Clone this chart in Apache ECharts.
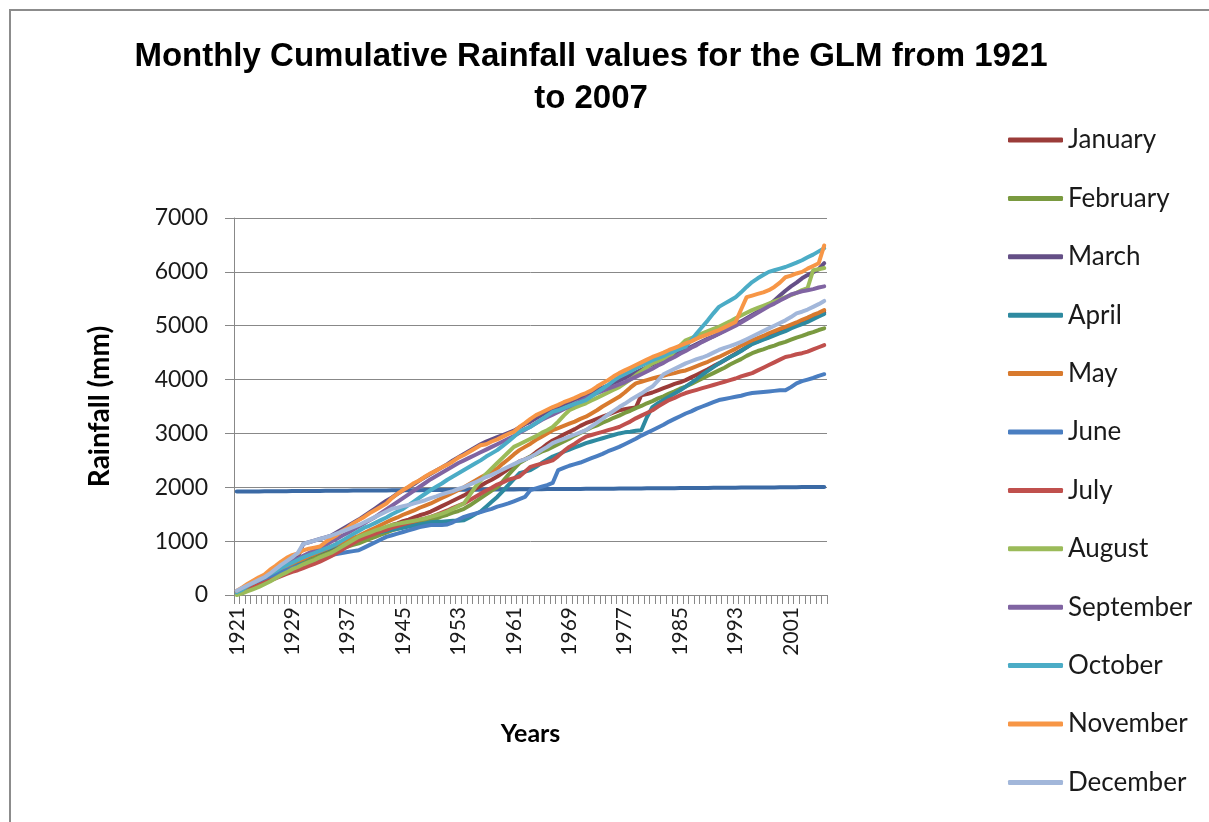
<!DOCTYPE html>
<html>
<head>
<meta charset="utf-8">
<script src="https://cdn.jsdelivr.net/npm/echarts@6/dist/echarts.min.js"></script>
<style>
html,body{margin:0;padding:0;background:#fff;}
#chart{width:1209px;height:822px;}
</style>
</head>
<body>
<div id="chart"></div>
<script>
// Year column (also used as the category labels)
const years = [
1921,1922,1922,1923,1924,1925,1926,1926,1927,1928,
1929,1930,1930,1931,1932,1933,1934,1934,1935,1936,
1937,1938,1938,1939,1940,1941,1942,1942,1943,1944,
1945,1946,1946,1947,1948,1949,1950,1950,1951,1952,
1953,1954,1954,1955,1956,1957,1958,1958,1959,1960,
1961,1962,1962,1963,1964,1965,1966,1966,1967,1968,
1969,1970,1970,1971,1972,1973,1974,1974,1975,1976,
1977,1978,1978,1979,1980,1981,1982,1982,1983,1984,
1985,1986,1986,1987,1988,1989,1990,1990,1991,1992,
1993,1994,1994,1995,1996,1997,1998,1998,1999,2000,
2001,2002,2003,2004,2005,2006,2007];

const january = [
50,90,140,190,240,280,330,380,430,470,
520,570,620,670,710,760,800,850,890,930,
970,1010,1050,1090,1130,1170,1210,1250,1300,1330,
1370,1400,1440,1480,1510,1550,1600,1650,1700,1750,
1800,1850,1910,1970,2030,2090,2140,2200,2270,2340,
2410,2480,2520,2570,2650,2720,2800,2870,2920,2980,
3030,3080,3140,3190,3230,3270,3310,3350,3390,3430,
3450,3470,3480,3710,3730,3760,3800,3840,3880,3920,
3950,3990,4040,4090,4140,4190,4250,4300,4360,4420,
4480,4540,4600,4670,4710,4750,4790,4840,4880,4920,
4970,5010,5060,5100,5150,5200,5250];

const february = [
40,80,120,160,210,250,300,360,410,470,
520,560,600,640,680,720,760,800,830,870,
900,930,960,1000,1040,1080,1120,1160,1200,1230,
1260,1280,1310,1340,1360,1390,1420,1460,1490,1530,
1560,1600,1660,1730,1800,1870,1940,2000,2110,2230,
2340,2450,2510,2570,2610,2660,2700,2750,2800,2850,
2900,2960,3010,3060,3110,3150,3200,3240,3290,3330,
3380,3420,3470,3510,3560,3600,3650,3690,3740,3780,
3830,3870,3920,3970,4020,4070,4120,4170,4220,4280,
4330,4380,4440,4490,4530,4560,4600,4630,4670,4700,
4740,4780,4810,4850,4880,4920,4950];

const march = [
60,120,180,240,300,350,410,470,530,590,
650,700,950,980,1010,1040,1070,1100,1160,1220,
1280,1340,1400,1470,1540,1610,1680,1750,1810,1880,
1940,2000,2060,2130,2190,2250,2310,2370,2430,2500,
2560,2620,2680,2740,2800,2850,2890,2930,2970,3010,
3050,3110,3170,3220,3280,3340,3400,3450,3490,3540,
3580,3630,3670,3720,3760,3810,3850,3890,3940,3980,
4030,4080,4130,4180,4230,4280,4330,4370,4420,4470,
4510,4560,4610,4660,4710,4760,4800,4850,4910,4970,
5030,5080,5140,5200,5260,5320,5380,5470,5560,5650,
5730,5800,5880,5940,5990,6050,6160];

const april = [
30,80,140,190,250,300,350,410,460,510,
560,610,660,710,760,800,840,880,920,960,
1000,1030,1060,1090,1120,1150,1170,1190,1210,1230,
1250,1270,1290,1310,1330,1350,1360,1360,1370,1380,
1380,1390,1440,1500,1550,1640,1730,1820,1930,2040,
2150,2260,2290,2320,2380,2450,2510,2570,2610,2660,
2700,2740,2780,2820,2850,2880,2910,2940,2970,3000,
3020,3030,3050,3060,3300,3490,3560,3620,3680,3740,
3800,3870,3940,4010,4090,4160,4230,4300,4360,4420,
4470,4530,4600,4660,4700,4740,4780,4820,4860,4900,
4950,4990,5030,5070,5120,5170,5220];

const may = [
40,90,150,200,250,300,360,410,470,520,
580,630,670,720,760,810,850,900,940,980,
1020,1060,1100,1150,1200,1250,1300,1350,1400,1440,
1490,1530,1570,1620,1660,1700,1750,1800,1850,1900,
1950,2000,2060,2120,2180,2240,2300,2350,2440,2520,
2610,2690,2750,2810,2880,2940,3000,3060,3100,3140,
3180,3220,3270,3310,3370,3430,3500,3560,3620,3680,
3760,3850,3930,3960,3990,4020,4050,4070,4100,4120,
4150,4170,4210,4250,4290,4330,4380,4420,4470,4520,
4570,4630,4680,4730,4770,4810,4860,4900,4940,4980,
5020,5060,5110,5150,5200,5240,5290];

const june = [
20,70,120,170,230,280,330,380,420,460,
500,540,570,600,630,660,700,740,760,780,
800,815,830,880,930,980,1030,1080,1110,1140,
1170,1200,1230,1260,1280,1300,1300,1300,1310,1350,
1400,1450,1480,1510,1540,1570,1600,1640,1670,1700,
1740,1780,1820,1950,1980,2010,2040,2080,2320,2360,
2400,2430,2460,2500,2540,2580,2620,2670,2710,2750,
2800,2850,2900,2960,3010,3060,3110,3160,3220,3270,
3320,3370,3410,3460,3500,3540,3580,3620,3640,3660,
3680,3700,3730,3750,3760,3770,3780,3790,3800,3800,
3860,3930,3970,4000,4030,4070,4100];

const july = [
30,70,110,150,190,230,270,310,350,390,
430,460,500,540,580,620,670,720,780,840,
900,960,1020,1060,1100,1140,1180,1210,1250,1280,
1310,1340,1370,1400,1420,1450,1490,1530,1570,1620,
1660,1700,1760,1820,1880,1940,1990,2050,2090,2140,
2170,2200,2290,2380,2410,2440,2470,2500,2580,2670,
2750,2810,2880,2940,2970,3000,3030,3060,3090,3120,
3170,3220,3280,3330,3380,3430,3500,3560,3620,3660,
3710,3750,3780,3810,3840,3870,3900,3930,3960,3990,
4020,4060,4090,4120,4170,4220,4270,4320,4370,4420,
4440,4470,4490,4520,4560,4600,4640];

const august = [
0,30,70,110,150,200,250,310,370,420,
480,520,570,610,650,700,740,780,840,900,
960,1020,1080,1120,1160,1200,1230,1270,1300,1320,
1340,1360,1380,1400,1420,1450,1480,1510,1550,1600,
1650,1700,1850,2000,2120,2250,2350,2450,2550,2650,
2750,2800,2850,2900,2950,3010,3060,3120,3220,3330,
3430,3480,3520,3560,3610,3660,3710,3760,3810,3860,
3930,4000,4080,4150,4230,4300,4340,4380,4420,4520,
4630,4730,4770,4810,4860,4900,4940,4980,5030,5080,
5140,5190,5240,5290,5330,5370,5410,5450,5490,5530,
5570,5610,5660,5700,6030,6050,6070];

const september = [
70,120,180,230,290,340,400,460,510,570,
620,670,730,780,830,880,930,990,1040,1100,
1150,1210,1270,1330,1390,1450,1520,1590,1660,1730,
1800,1870,1940,2010,2080,2150,2210,2270,2330,2390,
2450,2500,2550,2600,2650,2700,2750,2800,2850,2900,
2950,3010,3070,3130,3190,3250,3300,3350,3400,3450,
3500,3550,3600,3650,3700,3750,3790,3830,3870,3910,
3950,4000,4050,4100,4150,4200,4260,4310,4370,4420,
4480,4530,4590,4640,4700,4750,4800,4850,4900,4950,
5000,5060,5120,5180,5240,5300,5360,5410,5470,5520,
5580,5610,5640,5660,5680,5710,5730];

const october = [
50,100,170,230,280,330,390,440,500,550,
600,650,700,740,780,820,860,900,950,1010,
1070,1130,1190,1250,1290,1340,1390,1440,1500,1550,
1600,1670,1740,1810,1880,1950,2010,2070,2140,2200,
2260,2320,2380,2440,2500,2570,2630,2690,2770,2850,
2940,3030,3080,3120,3190,3260,3330,3400,3430,3470,
3510,3550,3580,3620,3690,3760,3830,3900,3980,4050,
4100,4150,4210,4260,4310,4360,4400,4440,4490,4530,
4570,4610,4730,4860,4980,5100,5230,5350,5410,5470,
5530,5620,5720,5810,5880,5940,6000,6030,6060,6090,
6130,6170,6215,6270,6320,6380,6440];

const november = [
80,140,210,270,330,380,470,540,620,690,
740,770,830,860,880,900,980,1050,1110,1190,
1250,1330,1390,1450,1520,1580,1640,1700,1800,1880,
1950,2010,2080,2130,2200,2260,2310,2370,2420,2480,
2550,2600,2660,2720,2780,2800,2850,2890,2940,2990,
3030,3120,3190,3270,3340,3390,3440,3490,3530,3580,
3620,3660,3710,3750,3800,3870,3930,3990,4060,4120,
4170,4220,4270,4320,4370,4420,4460,4500,4550,4590,
4630,4670,4710,4760,4800,4840,4880,4920,4970,5020,
5070,5300,5530,5560,5590,5620,5660,5720,5800,5900,
5930,5970,6000,6060,6110,6160,6490];

const december = [
80,130,180,230,280,330,400,480,560,630,
700,780,950,980,1010,1040,1070,1100,1140,1180,
1220,1260,1300,1350,1400,1450,1500,1550,1600,1620,
1650,1670,1700,1730,1760,1800,1830,1870,1900,1930,
1970,2000,2050,2090,2140,2190,2230,2280,2330,2380,
2430,2480,2520,2560,2620,2690,2750,2820,2860,2900,
2940,2980,3020,3060,3130,3200,3270,3350,3420,3490,
3550,3620,3680,3740,3810,3870,3980,4100,4150,4200,
4250,4300,4340,4380,4410,4450,4500,4550,4590,4620,
4660,4700,4750,4800,4850,4900,4950,5000,5050,5100,
5160,5230,5260,5300,5350,5400,5460];

const monthNames = ['January','February','March','April','May','June','July','August','September','October','November','December'];
const monthData = [january,february,march,april,may,june,july,august,september,october,november,december];
const monthColors = ['#9B3C39','#7A9A40','#644F86','#2E8AA0','#D87A2E','#4A7EC1','#C0504D','#9BBB59','#8064A2','#4BACC6','#F79646','#A2B7DA'];
const yTicks = {min:0, max:7000, interval:1000};

const gridColor = '#888888';
const LW = 4;
const series = [{
  name:'Year', type:'line', data: years, symbol:'none', color:'#3B6AA5',
  lineStyle:{width:LW, color:'#3B6AA5', cap:'round', join:'round'}, z:2
}];
monthNames.forEach((n,i)=>{
  series.push({
    name:n, type:'line', data: monthData[i], symbol:'none', color: monthColors[i],
    lineStyle:{width:LW, color: monthColors[i], cap:'round', join:'round'}, z:3
  });
});

const chart = echarts.init(document.getElementById('chart'), null, {renderer:'canvas'});
chart.setOption({
  animation:false,
  backgroundColor:'#ffffff',
  title:{
    text:'Monthly Cumulative Rainfall values for the GLM from 1921\nto 2007',
    left:586, top:31, textAlign:'center',
    textStyle:{fontFamily:'Liberation Sans', fontWeight:'bold', fontSize:33, lineHeight:42, color:'#000'}
  },
  legend:{
    data: monthNames,
    orient:'vertical', left:1003, top:120,
    icon:'roundRect',
    itemWidth:55, itemHeight:5, itemGap:28.4,
    textStyle:{fontFamily:'Lato', fontSize:26, lineHeight:30, color:'#1a1a1a'}
  },
  grid:{left:234, right:382, top:218, bottom:227, containLabel:false},
  xAxis:{
    type:'category', data: years.map(String), boundaryGap:true,
    name:'Years', nameLocation:'middle', nameGap:126,
    nameTextStyle:{fontFamily:'Lato', fontWeight:'bold', fontSize:25, color:'#000'},
    axisLine:{show:true, lineStyle:{color:gridColor, width:1}},
    axisTick:{show:true, interval:0, length:9, inside:false, alignWithLabel:false, lineStyle:{color:gridColor}},
    axisLabel:{interval:9, rotate:90, margin:12, fontFamily:'Lato', fontSize:21, color:'#1a1a1a'},
    splitLine:{show:false}
  },
  yAxis:{
    type:'value', min:yTicks.min, max:yTicks.max, interval:yTicks.interval,
    name:'Rainfall (mm)', nameLocation:'middle', nameGap:120, nameRotate:90,
    nameTextStyle:{fontFamily:'Lato', fontWeight:'bold', fontSize:28, color:'#000'},
    axisLine:{show:true, lineStyle:{color:gridColor, width:1}},
    axisTick:{show:true, length:9, inside:false, lineStyle:{color:gridColor}},
    axisLabel:{margin:26, fontFamily:'Lato', fontSize:23, color:'#1a1a1a', formatter:function(v){return String(v);}},
    splitLine:{show:true, lineStyle:{color:gridColor, width:1}}
  },
  graphic:[{
    type:'polyline', silent:true,
    shape:{points:[[10,830],[10,10],[1215,10]]},
    style:{stroke:'#8c8c8c', lineWidth:2, fill:null}
  }],
  series: series
});
</script>
</body>
</html>
